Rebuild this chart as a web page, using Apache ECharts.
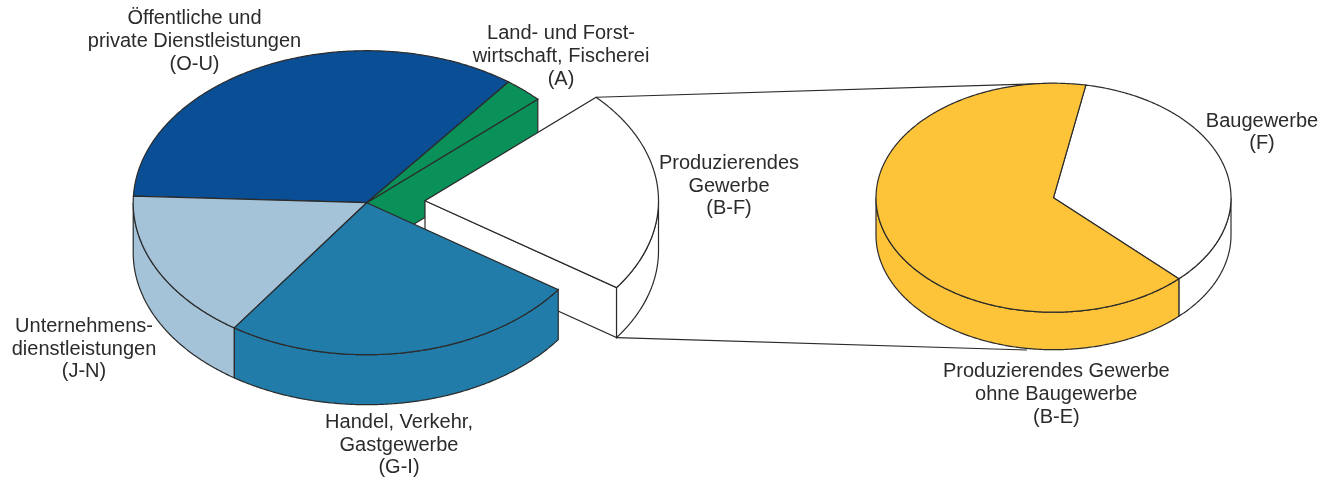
<!DOCTYPE html>
<html>
<head>
<meta charset="utf-8">
<title>Pie of pie</title>
<style>
  html, body { margin: 0; padding: 0; background: #fff; }
  #container { width: 1331px; height: 482px; }
</style>
<script src="https://cdn.jsdelivr.net/npm/echarts@6/dist/echarts.min.js"></script>
</head>
<body>
<div id="container"></div>
<script>
(function (window) {
  'use strict';

  // shares in percent, counter-clockwise from the first slice
  var mainNames = ['O-U', 'J-N', 'G-I', 'B-F', 'A'];
  var mainShares = [34.7, 16.1, 24.9, 21.6, 2.7];
  var subNames = ['B-E', 'F'];
  var subShares = [65.4, 34.6];

  var mainColors = ['#0a4f95', '#a4c2d8', '#227ca9', '#ffffff', '#0a9159'];
  var subColors = ['#fdc43a', '#ffffff'];
  var labelTexts = [
    'Öffentliche und\nprivate Dienstleistungen\n(O-U)',
    'Land- und Forst-\nwirtschaft, Fischerei\n(A)',
    'Produzierendes\nGewerbe\n(B-F)',
    'Baugewerbe\n(F)',
    'Unternehmens-\ndienstleistungen\n(J-N)',
    'Handel, Verkehr,\nGastgewerbe\n(G-I)',
    'Produzierendes Gewerbe\nohne Baugewerbe\n(B-E)'
  ];
  var labelSpots = [[194.5, 41.5], [561, 56.5], [729, 186], [1262, 132.5], [84, 349], [399, 445], [1056.3, 394.5]];

  var stroke = '#2b2b2b';
  var mainPie = {
    cx: 366.7, cy: 202.7, rx: 233.5, ry: 152, depth: 50, start: 52.6,
    names: mainNames, colors: mainColors,
    explode: { 'B-F': [58.3, -2] },
    walls: ['B-F', 'A'],
    paint: ['O-U', 'A', 'B-F', 'J-N', 'G-I']
  };
  var subPie = {
    cx: 1053.5, cy: 197.7, rx: 177.5, ry: 114.5, depth: 37.5, start: 79.5,
    names: subNames, colors: subColors,
    explode: {},
    walls: [],
    paint: ['F', 'B-E']
  };

  function point(pie, deg, off, down) {
    var t = deg * Math.PI / 180;
    return [
      pie.cx + off[0] + pie.rx * Math.cos(t),
      pie.cy + off[1] - pie.ry * Math.sin(t) + (down || 0)
    ];
  }

  function arc(pie, from, to, off, down) {
    var pts = [];
    for (var a = from; a < to; a += 0.5) pts.push(point(pie, a, off, down));
    pts.push(point(pie, to, off, down));
    return pts;
  }

  function sliceRange(pie, shares, i) {
    var sum = 0;
    for (var k = 0; k < i; k++) sum += shares[k];
    var from = pie.start + sum * 3.6;
    return [from, from + shares[i] * 3.6];
  }

  function poly(points, fill, z2) {
    return {
      type: 'polygon',
      shape: { points: points },
      style: { fill: fill, stroke: stroke, lineWidth: 1.2 },
      z2: z2,
      silent: true
    };
  }

  function makeRender(pie, shares) {
    return function (params, api) {
      var i = params.dataIndex;
      var name = pie.names[i];
      var fill = pie.colors[i];
      var r = sliceRange(pie, shares, i);
      var off = pie.explode[name] || [0, 0];
      var z = pie.paint.indexOf(name) * 10;
      var c = [pie.cx + off[0], pie.cy + off[1]];
      var kids = [];

      // the cut face next to the pulled out slice
      if (pie.walls.indexOf(name) >= 0) {
        var p = point(pie, r[0], off);
        kids.push(poly([c, p, [p[0], p[1] + pie.depth], [c[0], c[1] + pie.depth]], fill, z));
      }
      // outer rim, only the part that faces the viewer
      [[180, 360], [540, 720]].forEach(function (win) {
        var a = Math.max(r[0], win[0]);
        var b = Math.min(r[1], win[1]);
        if (b > a) {
          var top = arc(pie, a, b, off);
          var low = arc(pie, a, b, off, pie.depth).reverse();
          kids.push(poly(top.concat(low), fill, z + 1));
        }
      });
      kids.push(poly([c].concat(arc(pie, r[0], r[1], off)), fill, z + 2));

      return { type: 'group', children: kids };
    };
  }

  function renderConnector(params) {
    var off = mainPie.explode['B-F'];
    var r = sliceRange(mainPie, mainShares, 3);
    var from = params.dataIndex === 0 ? point(mainPie, r[1], off) : point(mainPie, r[0], off, mainPie.depth);
    var to = params.dataIndex === 0 ? [1050, 83.3] : [1027, 350];
    return {
      type: 'line',
      shape: { x1: from[0], y1: from[1], x2: to[0], y2: to[1] },
      style: { stroke: stroke, lineWidth: 1.2 },
      silent: true
    };
  }

  var chart = echarts.init(document.getElementById('container'), null, { renderer: 'canvas' });

  chart.setOption({
    animation: false,
    backgroundColor: '#ffffff',
    tooltip: { show: false },
    graphic: labelTexts.map(function (text, i) {
      return {
        type: 'text',
        x: labelSpots[i][0],
        y: labelSpots[i][1],
        silent: true,
        style: {
          text: text,
          align: 'center',
          verticalAlign: 'middle',
          lineHeight: 22.7,
          fill: '#2b2b2b',
          font: '20px "Liberation Sans", Arial, sans-serif'
        }
      };
    }),
    series: [
      {
        type: 'custom',
        coordinateSystem: 'none',
        silent: true,
        z: 1,
        renderItem: renderConnector,
        data: [[0], [1]]
      },
      {
        type: 'custom',
        coordinateSystem: 'none',
        silent: true,
        z: 2,
        renderItem: makeRender(mainPie, mainShares),
        data: mainShares.map(function (v) { return [v]; })
      },
      {
        type: 'custom',
        coordinateSystem: 'none',
        silent: true,
        z: 2,
        renderItem: makeRender(subPie, subShares),
        data: subShares.map(function (v) { return [v]; })
      }
    ]
  });

  window.addEventListener('resize', function () {
    chart.resize();
  });
})(window);
</script>
</body>
</html>
